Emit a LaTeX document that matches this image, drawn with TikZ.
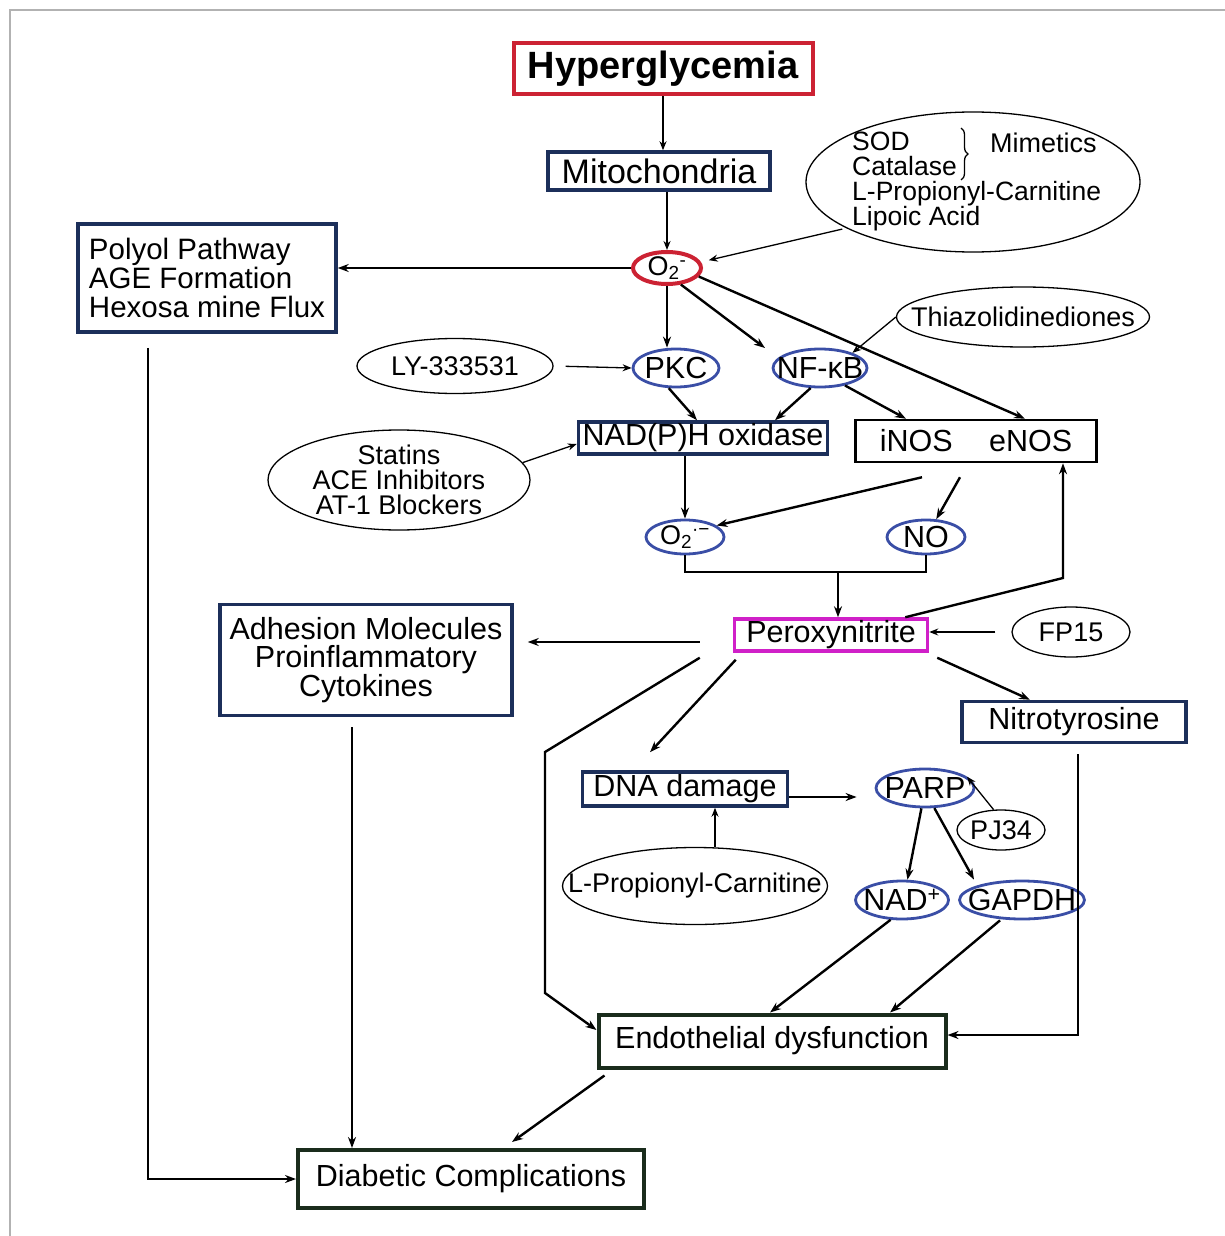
\documentclass[tikz,border=0pt]{standalone}
\usepackage{fontspec}
\setmainfont{Liberation Sans}
\usetikzlibrary{shapes.geometric,arrows.meta,decorations.pathreplacing}
\definecolor{hred}{HTML}{CC2233}
\definecolor{navy}{HTML}{1C2F5A}
\definecolor{eblue}{HTML}{3A4EA6}
\definecolor{mag}{HTML}{D020C8}
\definecolor{dkgreen}{HTML}{1A2C1C}
\newcommand\szT{\fontsize{38}{40}\selectfont\bfseries}
\newcommand\szB{\fontsize{30.5}{29}\selectfont}
\newcommand\szC{\fontsize{30.5}{30}\selectfont}
\newcommand\szE{\fontsize{27}{25}\selectfont}
\begin{document}
\begin{tikzpicture}[x=1pt,y=-1pt,
  box/.style={rectangle, inner sep=0pt, align=center, font=\szB},
  navybox/.style={box, draw=navy, line width=3.5pt},
  etx/.style={font=\szE, align=center, inner sep=0pt},
  btx/.style={font=\szC, inner sep=0pt},
  ell/.style={ellipse, draw=black, line width=1.3pt, inner sep=0pt, label={[etx]center:#1}},
  bell/.style={ellipse, draw=eblue, line width=2.8pt, inner sep=0pt, label={[btx]center:#1}},
  etxt/.style={anchor=west, inner sep=0pt, font=\szE},
  arr/.style={line width=2.4pt, -{Stealth[length=11pt,width=8pt]}},
  tarr/.style={line width=1.3pt, -{Stealth[length=9pt,width=7pt]}},
  ln/.style={line width=2.4pt}]
\useasboundingbox (0,0) rectangle (1225,1236);
\draw[gray!60, line width=1.5pt] (10,1236) -- (10,10) -- (1225,10);

% nodes
\node[box, draw=hred, line width=4pt, minimum width=299pt, minimum height=51pt, font=\szT] (hyper) at (663,69) {Hyperglycemia};
\node[navybox, minimum width=222pt, minimum height=38pt, font=\fontsize{34}{34}\selectfont] (mito) at (659,171) {Mitochondria};
\node[ellipse, draw=hred, line width=4pt, minimum width=68pt, minimum height=32pt, inner sep=0pt, label={[etx]center:{O\textsubscript{2}\textsuperscript{-}}}] (o2) at (667,268) {};
\node[ell={}, minimum width=334pt, minimum height=140pt] (sod) at (973,182) {};
\node[anchor=north west, inner sep=0pt, align=left, font=\fontsize{26.5}{25}\selectfont] (tsod) at (852,132) {SOD\\Catalase\\L-Propionyl-Carnitine\\Lipoic Acid};
\node[etxt] (tmim) at (990,143) {Mimetics};
\draw[line width=1.3pt, decorate, decoration={brace, amplitude=7pt}] (961,128) -- (961,180);

\node[navybox, minimum width=258pt, minimum height=108pt, align=left, font=\fontsize{29.5}{29}\selectfont] (polyol) at (207,278) {Polyol Pathway\\AGE Formation\\Hexosa mine Flux};
\node[ell={Thiazolidinediones}, minimum width=253pt, minimum height=60pt] (thz) at (1023,317) {};
\node[ell={LY-333531}, minimum width=196pt, minimum height=55pt] (ly) at (455,366) {};
\node[bell={PKC}, minimum width=86pt, minimum height=38pt] (pkc) at (676,368) {};
\node[bell={NF-κB}, minimum width=94pt, minimum height=38pt] (nfkb) at (820,368) {};
\node[navybox, minimum width=249pt, minimum height=32pt] (nadph) at (703,438) {NAD(P)H oxidase};
\node[box, draw=black, line width=2.5pt, minimum width=241pt, minimum height=42pt] (nos) at (976,441) {iNOS\hspace{1.2em}eNOS};
\node[ell={Statins\\ACE Inhibitors\\AT-1 Blockers}, minimum width=262pt, minimum height=100pt] (stat) at (399,480) {};
\node[ellipse, draw=eblue, line width=2.8pt, inner sep=0pt, minimum width=78pt, minimum height=34pt, label={[etx]center:{O\textsubscript{2}\textsuperscript{·−}}}] (o2b) at (685,537) {};
\node[bell={NO}, minimum width=78pt, minimum height=34pt] (no) at (926,537) {};
\node[box, draw=mag, line width=3.5pt, minimum width=193pt, minimum height=32pt] (perox) at (831,635) {Peroxynitrite};
\node[ell={FP15}, minimum width=118pt, minimum height=50pt] (fp) at (1071,632) {};
\node[navybox, minimum width=292pt, minimum height=111pt, font=\fontsize{30.5}{28}\selectfont] (adh) at (366,660) {Adhesion Molecules\\Proinflammatory\\Cytokines};
\node[navybox, minimum width=224pt, minimum height=41pt] (nitro) at (1074,722) {Nitrotyrosine};
\node[navybox, minimum width=205pt, minimum height=34pt] (dna) at (685,789) {DNA damage};
\node[bell={PARP}, minimum width=98pt, minimum height=38pt] (parp) at (925,788) {};
\node[ell={PJ34}, minimum width=88pt, minimum height=40pt] (pj) at (1001,830) {};
\node[ell={L-Propionyl-Carnitine}, minimum width=265pt, minimum height=77pt] (lpc) at (695,886) {};
\node[bell={NAD\textsuperscript{+}}, minimum width=93pt, minimum height=38pt] (nad) at (902,900) {};
\node[bell={GAPDH}, minimum width=125pt, minimum height=38pt] (gapdh) at (1022,900) {};
\node[box, draw=dkgreen, line width=4pt, minimum width=347pt, minimum height=53pt] (endo) at (772,1041) {Endothelial dysfunction};
\node[box, draw=dkgreen, line width=4pt, minimum width=346pt, minimum height=58pt] (diab) at (471,1179) {Diabetic Complications};

% coordinates
\coordinate (jn) at (838,572);
\coordinate (pk) at (1063,578);
\coordinate (b1) at (545,752);
\coordinate (b2) at (545,993);
\coordinate (pa) at ([xshift=-33pt,yshift=-7pt]perox.west);
\coordinate (ad) at ([xshift=-14pt,yshift=-10pt]adh.south);
\coordinate (dp) at ([yshift=-8pt]dna.east);
\coordinate (ld) at ([xshift=20pt]lpc.north);

% connectors
\draw[tarr, line width=1.8pt] (hyper.south) -- (hyper.south |- mito.north);
\draw[tarr, line width=1.8pt] (o2.north |- mito.south) -- (o2.north);
\draw[tarr, shorten <=4pt, shorten >=8pt] (sod.200) -- (o2.10);
\draw[arr, line width=2pt] (o2.west) -- (o2.west -| polyol.east);
\draw[arr, line width=2pt] ([xshift=-59pt,yshift=-14pt]polyol.south) |- (diab.west);
\draw[arr] (o2.south) -- (o2.south |- pkc.north);
\draw[arr] (o2.-50) -- ([xshift=-55pt,yshift=20pt]nfkb.center);
\draw[arr] (o2.-15) -- ([xshift=49pt]nos.north);
\draw[tarr] (thz.west) -- (nfkb.25);
\draw[tarr, shorten <=12pt] (ly.east) -- (pkc.west);
\draw[arr] (pkc.-110) -- ([xshift=-6pt]nadph.north);
\draw[arr] (nfkb.-115) -- ([xshift=72pt]nadph.north);
\draw[arr] (nfkb.-35) -- ([xshift=-70pt]nos.north);
\draw[tarr] (stat.8) -- ([yshift=-6pt]nadph.west);
\draw[arr] (o2b.north |- nadph.south) -- (o2b.north);
\draw[arr] ([xshift=-54pt,yshift=-14pt]nos.south) -- (o2b.20);
\draw[arr] ([xshift=-16pt,yshift=-14pt]nos.south) -- (no.60);
\draw[ln] (o2b.south) |- (jn) -| (no.south);
\draw[arr] (jn) -- (jn |- perox.north);
\draw[arr] ([xshift=-24pt]perox.north east) -- (pk) -- (pk |- nos.south);
\draw[tarr, shorten <=16pt] (fp.west) -- (fp.west -| perox.east);
\draw[arr, shorten >=14pt] (pa) -- (pa -| adh.east);
\draw[arr] (ad) -- (ad |- diab.north);
\draw[arr] ([xshift=8pt,yshift=-5pt]perox.south east) -- ([xshift=-44pt]nitro.north);
\draw[arr] ([xshift=4pt,yshift=-10pt]nitro.south) |- ([yshift=6pt]endo.east);
\draw[arr] ([xshift=3pt,yshift=-7pt]perox.south west) -- ([xshift=-35pt,yshift=18pt]dna.north);
\draw[arr] ([xshift=-33pt,yshift=-5pt]perox.south west) -- (b1) -- (b2) -- ([yshift=11pt]endo.west);
\draw[arr, shorten >=18pt] (dp) -- (dp -| parp.west);
\draw[tarr] (pj.110) -- (parp.15);
\draw[tarr] (ld) -- (ld |- dna.south);
\draw[arr] (parp.-100) -- (nad.75);
\draw[arr] (parp.-65) -- ([xshift=-48pt]gapdh.north);
\draw[arr] (nad.-120) -- ([xshift=-2pt]endo.north);
\draw[arr] ([xshift=-22pt]gapdh.south) -- ([xshift=118pt]endo.north);
\draw[arr] ([xshift=8pt,yshift=-6pt]endo.south west) -- ([xshift=41pt,yshift=6pt]diab.north);
\end{tikzpicture}
\end{document}
